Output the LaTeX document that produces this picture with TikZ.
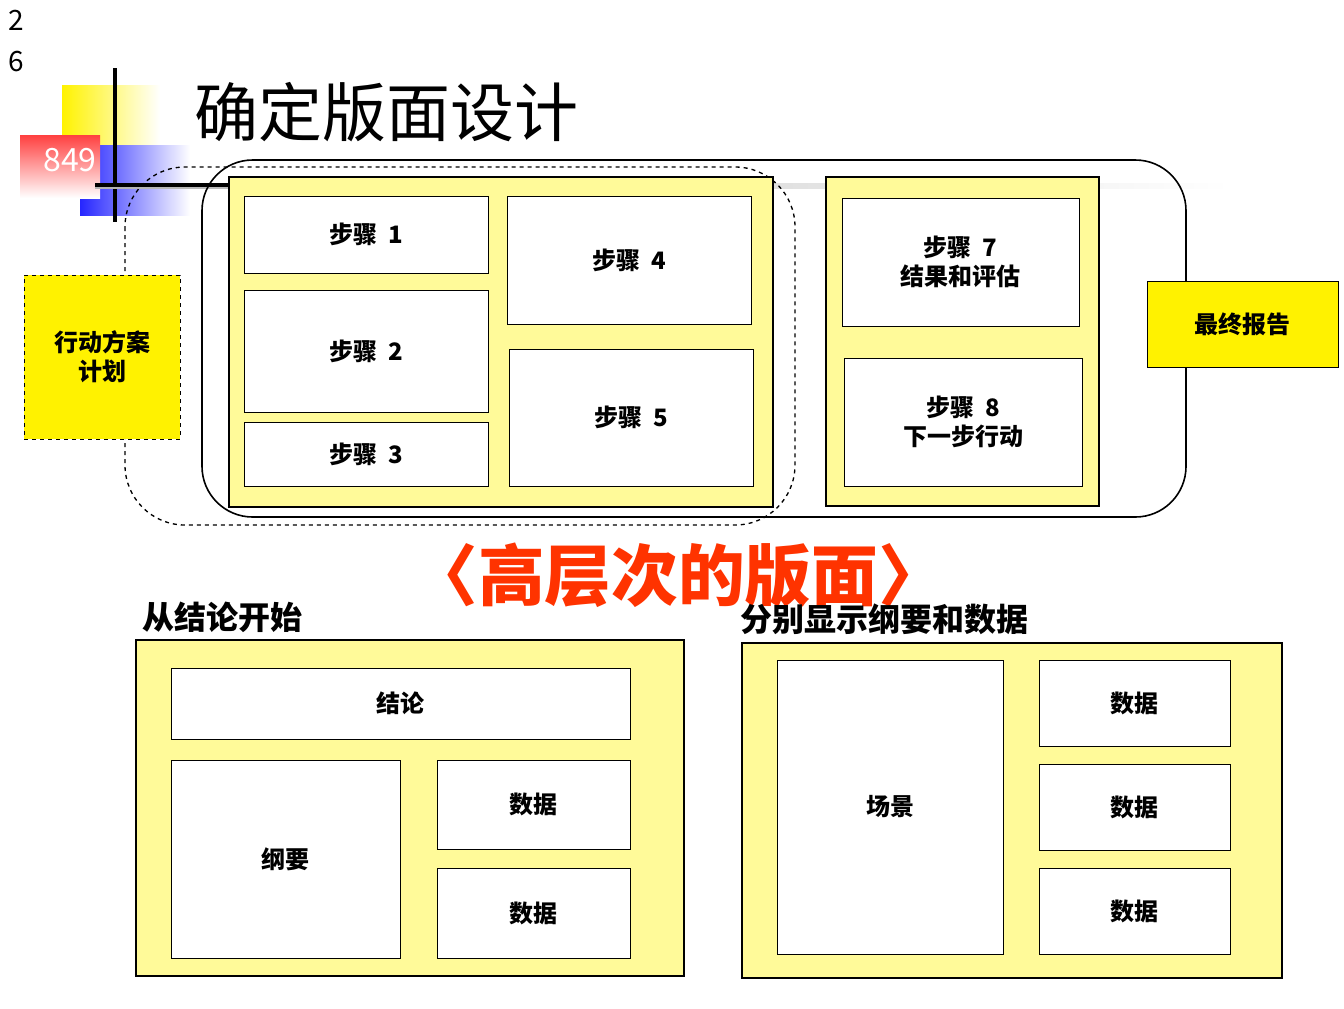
\documentclass[tikz,border=0pt]{standalone}
\usepackage{fontspec}
\setmainfont{Noto Sans CJK SC}
\begin{document}
\begin{tikzpicture}[x=0.75pt,y=-0.75pt,
 wbox/.style={draw,fill=white,line width=0.6pt,inner sep=0pt,font=\fontsize{18}{22}\selectfont\bfseries,align=center},
 ybox/.style={draw,fill=yellow!40,line width=2pt},
 lab/.style={font=\fontsize{24}{28}\selectfont\bfseries,anchor=west}]
\useasboundingbox (0,0) rectangle (1344,1008);
\fill[white] (0,0) rectangle (1344,1008);
% page number
\node[font=\fontsize{21}{24}\selectfont] at (16,20) {2};
\node[font=\fontsize{21}{24}\selectfont] at (16,62) {6};
% logo
\shade[left color=yellow!90!orange, right color=white] (62,85) rectangle (160,145);
\shade[left color=blue!85, right color=white] (80,145) rectangle (190,215);
\shade[top color=red!75, bottom color=white] (20,135) rectangle (100,198);
\node[white,font=\fontsize{24}{26}\selectfont] at (70,160) {849};
\draw[line width=3pt] (115,68) -- (115,222);
\shade[left color=gray!60,right color=white] (95,183) rectangle (1230,188);
\draw[line width=3pt] (95,185) -- (230,185);
% title
\node[anchor=west,font=\fontsize{48}{52}\selectfont] (title) at (190,112) {确定版面设计};
% frames
\draw[line width=1.2pt,rounded corners=38] (202,160) rectangle (1186,517);
\draw[dashed,line width=1pt,rounded corners=45] (125,167) rectangle (795,525);
\draw[ybox] (229,177) rectangle (773,507);
\draw[ybox] (826,177) rectangle (1099,506);
\node[wbox,minimum width=0.75*244pt,minimum height=0.75*77pt] (s1) at (366,234.5) {步骤\ \ 1};
\node[wbox,minimum width=0.75*244pt,minimum height=0.75*122pt] (s2) at (366,351) {步骤\ \ 2};
\node[wbox,minimum width=0.75*244pt,minimum height=0.75*64pt] (s3) at (366,454) {步骤\ \ 3};
\node[wbox,minimum width=0.75*244pt,minimum height=0.75*128pt] (s4) at (629,260) {步骤\ \ 4};
\node[wbox,minimum width=0.75*244pt,minimum height=0.75*137pt] (s5) at (631,417.5) {步骤\ \ 5};
\node[wbox,minimum width=0.75*237pt,minimum height=0.75*128pt] (s7) at (960.5,262) {步骤\ \ 7\\结果和评估};
\node[wbox,minimum width=0.75*238pt,minimum height=0.75*128pt] (s8) at (963,422) {步骤\ \ 8\\下一步行动};
\node[wbox,fill=yellow,dashed,minimum width=0.75*156pt,minimum height=0.75*164pt] (plan) at (102,357) {行动方案\\计划};
\node[wbox,fill=yellow,minimum width=0.75*191pt,minimum height=0.75*86pt] (rep) at (1242.5,324) {最终报告};
% subtitle
\node[text={rgb,255:red,255;green,51;blue,0},font=\fontsize{50}{54}\selectfont\bfseries] (sub) at (678,575) {〈高层次的版面〉};
\node[lab] (l1) at (138,617) {从结论开始};
\node[lab] (l2) at (736,619) {分别显示纲要和数据};
% bottom left
\draw[ybox] (136,640) rectangle (684,976);
\node[wbox,minimum width=0.75*459pt,minimum height=0.75*71pt] (c) at (400.5,703.5) {结论};
\node[wbox,minimum width=0.75*229pt,minimum height=0.75*198pt] (g) at (285.5,859) {纲要};
\node[wbox,minimum width=0.75*193pt,minimum height=0.75*89pt] (d1) at (533.5,804.5) {数据};
\node[wbox,minimum width=0.75*193pt,minimum height=0.75*90pt] (d2) at (533.5,913) {数据};
% bottom right
\draw[ybox] (742,643) rectangle (1282,978);
\node[wbox,minimum width=0.75*226pt,minimum height=0.75*294pt] (sc) at (890,807) {场景};
\node[wbox,minimum width=0.75*191pt,minimum height=0.75*86pt] (d3) at (1134.5,703) {数据};
\node[wbox,minimum width=0.75*191pt,minimum height=0.75*86pt] (d4) at (1134.5,807) {数据};
\node[wbox,minimum width=0.75*191pt,minimum height=0.75*86pt] (d5) at (1134.5,911) {数据};
\end{tikzpicture}
\end{document}
